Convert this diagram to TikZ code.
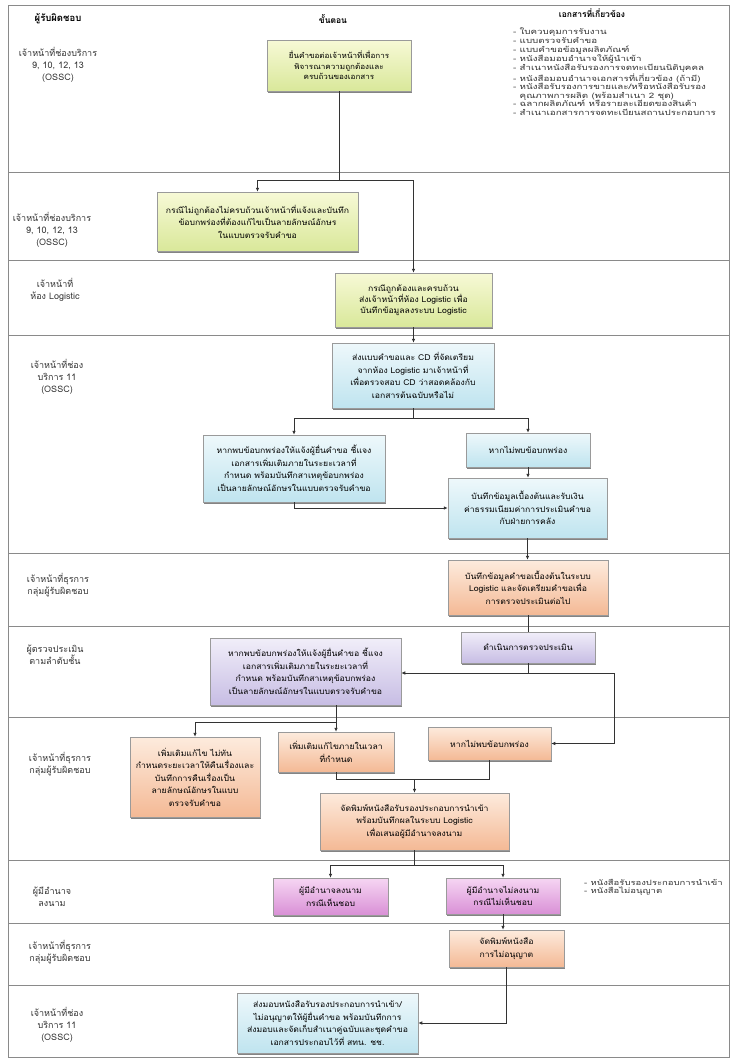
\documentclass[tikz,border=0pt]{standalone}
\usepackage{fontspec}
\setmainfont[Script=Thai]{Loma}
\newfontfamily\docfont[Script=Thai, FakeStretch=1.3]{Loma}
\newfontfamily\boxfam[Script=Thai, FakeStretch=1.08]{Loma}
\usetikzlibrary{arrows.meta,shadows}
\definecolor{frameC}{HTML}{8A8A8A}
\definecolor{edgeC}{HTML}{9A9A9A}
\definecolor{grT}{HTML}{F7F9D6}\definecolor{grB}{HTML}{D9E89A}
\definecolor{blT}{HTML}{EEF8FB}\definecolor{blB}{HTML}{BFE4EF}
\definecolor{orT}{HTML}{FDEBDD}\definecolor{orB}{HTML}{F4B995}
\definecolor{puT}{HTML}{F1EEF9}\definecolor{puB}{HTML}{C7BDE4}
\definecolor{piT}{HTML}{F6D6F3}\definecolor{piB}{HTML}{D990D6}
\newcommand{\bfnt}{\boxfam\fontsize{8}{12.5}\selectfont}
\newcommand{\lfnt}{\fontsize{9}{12}\selectfont}
\newcommand{\dfnt}{\docfont\fontsize{7.5}{8.6}\selectfont}
\tikzset{
  x=1pt, y=-1pt,
  stepbox/.style={draw=edgeC, line width=0.5pt, align=center, inner sep=2pt, font=\bfnt,
    drop shadow={shadow xshift=1pt, shadow yshift=-2pt, fill=black!60, opacity=0.8}},
  gbox/.style={stepbox, top color=grT, bottom color=grB},
  bbox/.style={stepbox, top color=blT, bottom color=blB},
  obox/.style={stepbox, top color=orT, bottom color=orB},
  pbox/.style={stepbox, top color=puT, bottom color=puB},
  kbox/.style={stepbox, top color=piT, bottom color=piB},
  lane/.style={draw=frameC, line width=0.7pt},
  role/.style={align=center, font=\lfnt, text=black!80},
  conn/.style={draw=black!80, line width=0.7pt},
  arr/.style={conn, -{Latex[length=4pt,width=3.5pt]}},
}
\begin{document}
\begin{tikzpicture}
\useasboundingbox (0,0) rectangle (732,1060);
\fill[white] (0,0) rectangle (732,1060);
% frame and lanes
\draw[lane] (8,5) rectangle (729,1057);
\foreach \yy in {172,260,335,553,626,717,860,923,985}
  \draw[lane] (8,\yy) -- (729,\yy);
% headers
\node[font=\fontsize{9.5}{11}\selectfont\bfseries] (h1) at (58,19) {ผู้รับผิดชอบ};
\node[font=\fontsize{8.5}{11}\selectfont\bfseries] (h2) at (333,19) {ขั้นตอน};
\node[font=\fontsize{8.5}{11}\selectfont\bfseries] (h3) at (592,13) {เอกสารที่เกี่ยวข้อง};
% roles
\node[role] (r1) at (58,65) {เจ้าหน้าที่ช่องบริการ\\9, 10, 12, 13\\(OSSC)};
\node[role] (r2) at (52,230) {เจ้าหน้าที่ช่องบริการ\\9, 10, 12, 13\\(OSSC)};
\node[role] (r3) at (55,290) {เจ้าหน้าที่\\ห้อง Logistic};
\node[role] (r4) at (57,377) {เจ้าหน้าที่ช่อง\\บริการ 11\\(OSSC)};
\node[role] (r5) at (58,585) {เจ้าหน้าที่ธุรการ\\กลุ่มผู้รับผิดชอบ};
\node[role] (r6) at (55,655) {ผู้ตรวจประเมิน\\ตามลำดับชั้น};
\node[role] (r7) at (60,764) {เจ้าหน้าที่ธุรการ\\กลุ่มผู้รับผิดชอบ};
\node[role] (r8) at (52,897) {ผู้มีอำนาจ\\ลงนาม};
\node[role] (r9) at (60,952) {เจ้าหน้าที่ธุรการ\\กลุ่มผู้รับผิดชอบ};
\node[role] (r10) at (57,1025) {เจ้าหน้าที่ช่อง\\บริการ 11\\(OSSC)};
% documents
\node[anchor=north west, align=left, font=\dfnt, text=black!80, inner sep=0pt] (docs) at (513,28) {%
- ใบควบคุมการรับงาน\\
- แบบตรวจรับคำขอ\\
- แบบคำขอข้อมูลผลิตภัณฑ์\\
- หนังสือมอบอำนาจให้ผู้นำเข้า\\
- สำเนาหนังสือรับรองการจดทะเบียนนิติบุคคล\\
- หนังสือมอบอำนาจเอกสารที่เกี่ยวข้อง (ถ้ามี)\\
- หนังสือรับรองการขายและ/หรือหนังสือรับรอง\\
\hphantom{- }คุณภาพการผลิต (พร้อมสำเนา 2 ชุด)\\
- ฉลากผลิตภัณฑ์ หรือรายละเอียดของสินค้า\\
- สำเนาเอกสารการจดทะเบียนสถานประกอบการ};
\node[anchor=north west, align=left, font=\docfont\fontsize{7.3}{8.6}\selectfont, text=black!80, inner sep=0pt] (docs2) at (584,879) {%
- หนังสือรับรองประกอบการนำเข้า\\
- หนังสือไม่อนุญาต};
% step boxes
\node[gbox, minimum width=144pt, minimum height=51pt, font=\boxfam\fontsize{7.5}{10.5}\selectfont] (B1) at (339,65.5)
  {ยื่นคำขอต่อเจ้าหน้าที่เพื่อการ\\พิจารณาความถูกต้องและ\\ครบถ้วนของเอกสาร};
\node[gbox, minimum width=201pt, minimum height=59pt] (B2) at (257.5,221.5)
  {กรณีไม่ถูกต้องไม่ครบถ้วนเจ้าหน้าที่แจ้งและบันทึก\\ข้อบกพร่องที่ต้องแก้ไขเป็นลายลักษณ์อักษร\\ในแบบตรวจรับคำขอ};
\node[gbox, minimum width=157pt, minimum height=54pt, font=\boxfam\fontsize{8}{11}\selectfont] (B3) at (413.5,300)
  {กรณีถูกต้องและครบถ้วน\\ส่งเจ้าหน้าที่ห้อง Logistic เพื่อ\\บันทึกข้อมูลลงระบบ Logistic};
\node[bbox, minimum width=162pt, minimum height=65pt] (B4) at (413,375.5)
  {ส่งแบบคำขอและ CD ที่จัดเตรียม\\จากห้อง Logistic มาเจ้าหน้าที่\\เพื่อตรวจสอบ CD ว่าสอดคล้องกับ\\เอกสารต้นฉบับหรือไม่};
\node[bbox, minimum width=182pt, minimum height=67pt] (B5) at (294,468.5)
  {หากพบข้อบกพร่องให้แจ้งผู้ยื่นคำขอ ชี้แจง\\เอกสารเพิ่มเติมภายในระยะเวลาที่\\กำหนด พร้อมบันทึกสาเหตุข้อบกพร่อง\\เป็นลายลักษณ์อักษรในแบบตรวจรับคำขอ};
\node[bbox, minimum width=124pt, minimum height=34pt] (B6) at (528,450)
  {หากไม่พบข้อบกพร่อง};
\node[bbox, minimum width=159pt, minimum height=60pt] (B7) at (527.5,508)
  {บันทึกข้อมูลเบื้องต้นและรับเงิน\\ค่าธรรมเนียมค่าการประเมินคำขอ\\กับฝ่ายการคลัง};
\node[obox, minimum width=160pt, minimum height=55pt] (B8) at (528,587.5)
  {บันทึกข้อมูลคำขอเบื้องต้นในระบบ\\Logistic และจัดเตรียมคำขอเพื่อ\\การตรวจประเมินต่อไป};
\node[pbox, minimum width=134pt, minimum height=31pt] (B9) at (528,647.5)
  {ดำเนินการตรวจประเมิน};
\node[pbox, minimum width=191pt, minimum height=67pt] (B10) at (305.5,671.5)
  {หากพบข้อบกพร่องให้แจ้งผู้ยื่นคำขอ ชี้แจง\\เอกสารเพิ่มเติมภายในระยะเวลาที่\\กำหนด พร้อมบันทึกสาเหตุข้อบกพร่อง\\เป็นลายลักษณ์อักษรในแบบตรวจรับคำขอ};
\node[obox, minimum width=130pt, minimum height=80pt] (B11) at (195,777)
  {เพิ่มเติมแก้ไข ไม่ทัน\\กำหนดระยะเวลาให้คืนเรื่องและ\\บันทึกการคืนเรื่องเป็น\\ลายลักษณ์อักษรในแบบ\\ตรวจรับคำขอ};
\node[obox, minimum width=116pt, minimum height=40pt] (B12) at (336,752)
  {เพิ่มเติมแก้ไขภายในเวลา\\ที่กำหนด};
\node[obox, minimum width=123pt, minimum height=33pt] (B13) at (489.5,743.5)
  {หากไม่พบข้อบกพร่อง};
\node[obox, minimum width=189pt, minimum height=57pt] (B14) at (414.5,821.5)
  {จัดพิมพ์หนังสือรับรองประกอบการนำเข้า\\พร้อมบันทึกผลในระบบ Logistic\\เพื่อเสนอผู้มีอำนาจลงนาม};
\node[kbox, minimum width=115pt, minimum height=37pt] (B15) at (330.5,896.5)
  {ผู้มีอำนาจลงนาม\\กรณีเห็นชอบ};
\node[kbox, minimum width=114pt, minimum height=36pt] (B16) at (503,896)
  {ผู้มีอำนาจไม่ลงนาม\\กรณีไม่เห็นชอบ};
\node[obox, minimum width=115pt, minimum height=37pt] (B17) at (506.5,948.5)
  {จัดพิมพ์หนังสือ\\การไม่อนุญาต};
\node[bbox, minimum width=181pt, minimum height=60pt] (B18) at (327.5,1023)
  {ส่งมอบหนังสือรับรองประกอบการนำเข้า/\\ไม่อนุญาตให้ผู้ยื่นคำขอ พร้อมบันทึกการ\\ส่งมอบและจัดเก็บสำเนาคู่ฉบับและชุดคำขอ\\เอกสารประกอบไว้ที่ สทน. ชช.};
% connectors
\coordinate (j1) at (339,180);
\draw[conn] (B1.south) -- (j1);
\draw[arr] (j1) -| (B2.north);
\draw[arr] (j1) -| (B3.north);
\draw[arr] (B3.south) -- (B3.south |- B4.north);
\coordinate (j2) at (413,418);
\draw[conn] (B4.south) -- (j2);
\draw[arr] (j2) -| (B5.north);
\draw[arr] (j2) -| (B6.north);
\draw[arr] (B6.south) -- (B6.south |- B7.north);
\draw[arr] (B5.south) |- (B7.west);
\draw[arr] (B7.south) -- (B7.south |- B8.north);
\draw[conn] (B8.south) -- (B8.south |- B9.north);
\coordinate (j3) at (528,673);
\coordinate (j4) at (614,673);
\draw[conn] (B9.south) -- (j3);
\draw[arr] (j3) -- (B10.east |- j3);
\draw[arr] (j3) -- (j4) |- (B13.east);
\coordinate (j5) at (336,722);
\draw[conn] (B10.south -| j5) -- (j5);
\draw[arr] (j5) -- (B12.north);
\draw[arr] (j5) -| (B11.north);
\coordinate (j6) at (414.5,779);
\draw[conn] (B12.south) |- (j6);
\draw[conn] (B13.south) |- (j6);
\draw[arr] (j6) -- (B14.north);
\coordinate (j7) at (414.5,865);
\draw[conn] (B14.south) -- (j7);
\draw[arr] (j7) -| (B15.north);
\draw[arr] (j7) -| (B16.north);
\draw[arr] (B16.south) -- (B16.south |- B17.north);
\draw[arr] (B17.south) |- (B18.east);
\end{tikzpicture}
\end{document}
